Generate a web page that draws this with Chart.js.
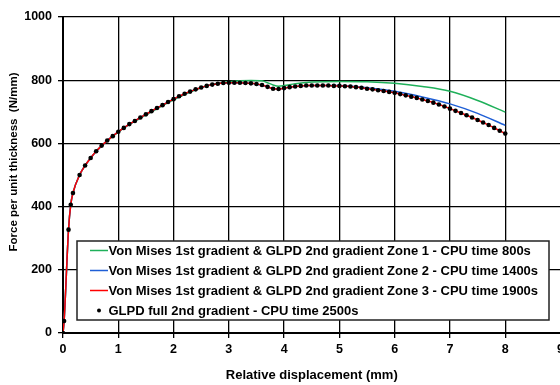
<!DOCTYPE html>
<html lang="en">
<head>
  <meta charset="UTF-8">
  <title>Force vs relative displacement</title>
  <script src="https://cdn.jsdelivr.net/npm/chart.js"></script>
  <style>
    body {
      margin: 0;
      background-color: #ffffff;
      overflow: hidden;
    }

    .wrap {
      width: 568px;
      height: 385px;
    }
  </style>
</head>
<body>
  <div class="wrap"><canvas id="forceChart"></canvas></div>

  <script>
    const seriesNames = [
      'Von Mises 1st gradient & GLPD 2nd gradient Zone 1 - CPU time 800s',
      'Von Mises 1st gradient & GLPD 2nd gradient Zone 2 - CPU time 1400s',
      'Von Mises 1st gradient & GLPD 2nd gradient Zone 3 - CPU time 1900s',
      'GLPD full 2nd gradient - CPU time 2500s'
    ];

    // GLPD full (dots) - red zone 3 line lies right on top of these
    const glpdDisp = [0, 0.02, 0.1, 0.14, 0.18, 0.3, 0.4, 0.5, 0.6, 0.7, 0.8, 0.9,
      1.0, 1.1, 1.2, 1.3, 1.4, 1.5, 1.6, 1.7, 1.8, 1.9,
      2.0, 2.1, 2.2, 2.3, 2.4, 2.5, 2.6, 2.7, 2.8, 2.9,
      3.0, 3.1, 3.2, 3.3, 3.4, 3.5, 3.6, 3.7, 3.8, 3.9,
      4.0, 4.1, 4.2, 4.3, 4.4, 4.5, 4.6, 4.7, 4.8, 4.9,
      5.0, 5.1, 5.2, 5.3, 5.4, 5.5, 5.6, 5.7, 5.8, 5.9,
      6.0, 6.1, 6.2, 6.3, 6.4, 6.5, 6.6, 6.7, 6.8, 6.9,
      7.0, 7.1, 7.2, 7.3, 7.4, 7.5, 7.6, 7.7, 7.8, 7.9, 8.0];
    const glpdForce = [0, 38, 327, 406, 443, 500, 530, 554, 575, 593, 609, 623,
      637, 649, 661, 671, 682, 692, 702, 712, 721, 731,
      740, 749, 757, 764, 771, 777, 782, 786, 789, 791,
      792, 792, 792, 791, 790, 788, 785, 779, 773, 772,
      775, 778, 780, 782, 783, 783, 783, 783, 783, 782,
      782, 781, 780, 778, 776, 773, 771, 768, 766, 763,
      760, 756, 752, 748, 744, 739, 734, 729, 723, 717,
      710, 703, 696, 689, 682, 674, 666, 658, 649, 640, 631];

    const zone3Disp = glpdDisp;
    const zone3Force = glpdForce;

    const zone2Disp = [0, 0.02, 0.1, 0.14, 0.18, 0.3, 0.5, 0.7, 1.0, 1.3, 1.6, 2.0, 2.4, 2.7,
      3.0, 3.3, 3.5, 3.7, 3.8, 3.9, 4.0, 4.2, 4.5, 5.0, 5.5, 6.0, 6.5, 7.0, 7.5, 8.0];
    const zone2Force = [0, 38, 327, 406, 443, 500, 554, 593, 637, 671, 702, 740, 771, 786,
      792, 791, 788, 779, 773, 772, 775, 780, 783, 783, 776, 765, 747, 725, 695, 657];

    const zone1Disp = [0, 0.02, 0.1, 0.14, 0.18, 0.3, 0.5, 0.7, 1.0, 1.3, 1.6, 2.0, 2.4, 2.7,
      3.0, 3.2, 3.4, 3.6, 3.7, 3.8, 3.9, 4.0, 4.2, 4.5, 5.0, 5.5, 6.0, 6.5, 7.0, 7.5, 8.0];
    const zone1Force = [0, 38, 327, 406, 443, 500, 554, 593, 636, 670, 700, 738, 770, 787,
      795, 798, 799, 798, 792, 785, 781, 783, 789, 794, 796, 795, 790, 780, 765, 736, 699];

    const xTicks = [0, 1, 2, 3, 4, 5, 6, 7, 8, 9];
    const yTicks = [0, 200, 400, 600, 800, 1000];

    const seriesColors = ['#1fb05a', '#1f5fd6', '#ff0000', '#000000'];

    const pts = (xs, ys) => xs.map((x, i) => ({ x: x, y: ys[i] }));
    const FONT = "'Liberation Sans', Arial, sans-serif";

    // legend box inside the plot + rotated y title
    const boxLegend = {
      id: 'boxLegend',
      afterDraw(chart) {
        const ctx = chart.ctx;
        ctx.save();
        ctx.fillStyle = '#ffffff';
        ctx.strokeStyle = '#222';
        ctx.lineWidth = 1.5;
        ctx.fillRect(77, 241, 472, 79);
        ctx.strokeRect(77, 241, 472, 79);

        ctx.font = 'bold 13px ' + FONT;
        ctx.textBaseline = 'middle';
        chart.data.datasets.forEach((ds, i) => {
          const y = 250.5 + i * 20;
          if (i < 3) {
            ctx.strokeStyle = ds.borderColor;
            ctx.lineWidth = 1.5;
            ctx.beginPath();
            ctx.moveTo(90, y);
            ctx.lineTo(108, y);
            ctx.stroke();
          } else {
            ctx.fillStyle = '#000';
            ctx.beginPath();
            ctx.arc(99, y, 2, 0, Math.PI * 2);
            ctx.fill();
          }
          ctx.fillStyle = '#000';
          ctx.fillText(ds.label, 108.5, y + 0.5);
        });

        ctx.font = 'bold 11.5px ' + FONT;
        ctx.translate(14, 162);
        ctx.rotate(-Math.PI / 2);
        ctx.textAlign = 'center';
        ctx.fillText('Force per unit thickness  (N/mm)', 0, 0);
        ctx.restore();
      }
    };

    new Chart(document.getElementById('forceChart'), {
      type: 'scatter',
      data: {
        datasets: [
          {
            label: seriesNames[0],
            data: pts(zone1Disp, zone1Force),
            showLine: true,
            borderColor: seriesColors[0],
            borderWidth: 1.5,
            pointRadius: 0,
            cubicInterpolationMode: 'monotone',
            order: 3
          },
          {
            label: seriesNames[1],
            data: pts(zone2Disp, zone2Force),
            showLine: true,
            borderColor: seriesColors[1],
            borderWidth: 1.5,
            pointRadius: 0,
            cubicInterpolationMode: 'monotone',
            order: 2
          },
          {
            label: seriesNames[2],
            data: pts(zone3Disp, zone3Force),
            showLine: true,
            borderColor: seriesColors[2],
            borderWidth: 1.5,
            pointRadius: 0,
            cubicInterpolationMode: 'monotone',
            order: 1
          },
          {
            label: seriesNames[3],
            data: pts(glpdDisp, glpdForce),
            showLine: false,
            backgroundColor: seriesColors[3],
            borderColor: seriesColors[3],
            pointRadius: 2.3,
            pointBorderWidth: 0,
            order: 0
          }
        ]
      },
      options: {
        responsive: true,
        maintainAspectRatio: false,
        animation: false,
        layout: { padding: { top: 17, left: 0, right: 0, bottom: 0 } },
        plugins: {
          legend: { display: false },
          tooltip: { enabled: false }
        },
        scales: {
          x: {
            type: 'linear',
            min: 0,
            max: 9,
            afterBuildTicks: (axis) => { axis.ticks = xTicks.map(v => ({ value: v })); },
            afterFit: (axis) => { axis.height = 52; },
            grid: { color: '#000', lineWidth: 1.3, tickLength: 5, tickColor: '#000' },
            border: { color: '#000', width: 2 },
            ticks: {
              color: '#000',
              padding: 4,
              font: { family: FONT, size: 12.5, weight: 'bold' },
              callback: (v) => String(v)
            },
            title: {
              display: true,
              text: 'Relative displacement (mm)',
              color: '#000',
              padding: { top: 4, bottom: 2 },
              font: { family: FONT, size: 13, weight: 'bold' }
            }
          },
          y: {
            type: 'linear',
            min: 0,
            max: 1000,
            afterBuildTicks: (axis) => { axis.ticks = yTicks.map(v => ({ value: v })); },
            afterFit: (axis) => { axis.width = 63; },
            grid: { color: '#000', lineWidth: 1.3, tickLength: 5, tickColor: '#000' },
            border: { color: '#000', width: 2 },
            ticks: {
              color: '#000',
              padding: 6,
              font: { family: FONT, size: 12.5, weight: 'bold' },
              callback: (v) => String(v)
            }
          }
        }
      },
      plugins: [boxLegend]
    });
  </script>
</body>
</html>
